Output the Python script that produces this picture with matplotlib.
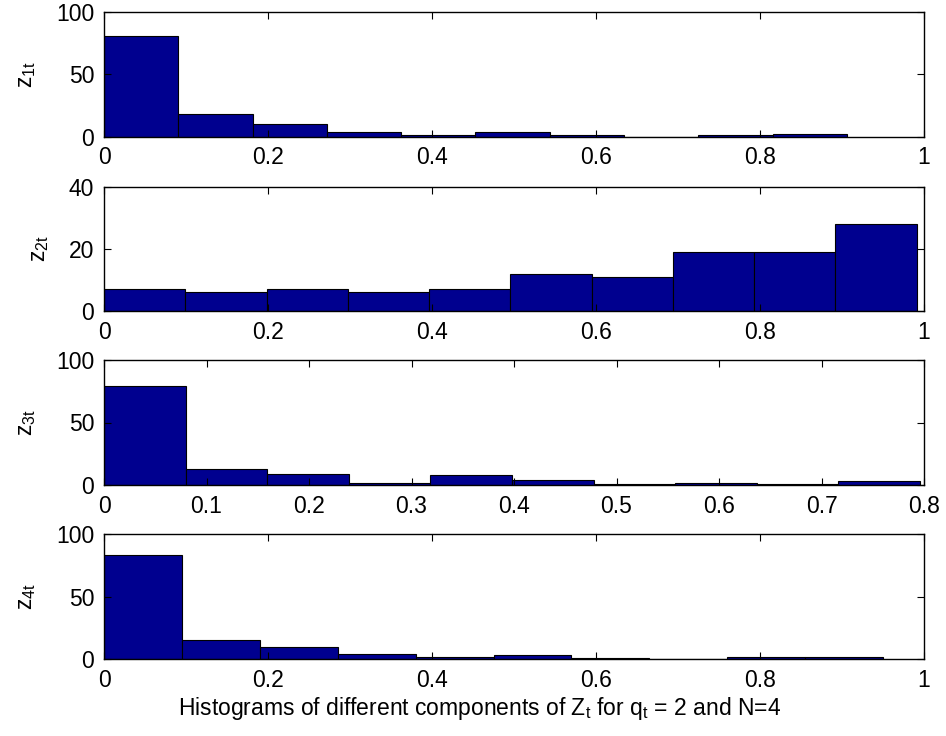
import numpy as np
import matplotlib
matplotlib.use("Agg")
import matplotlib.pyplot as plt

plt.rcParams['font.family'] = ['Liberation Sans', 'DejaVu Sans']
plt.rcParams['mathtext.fontset'] = 'custom'
plt.rcParams['mathtext.rm'] = 'Liberation Sans'
plt.rcParams['mathtext.it'] = 'Liberation Sans'

# histogram counts (10 bins each) and the data range spanned by the bins
counts_z1 = [81, 18, 10, 4, 1, 4, 1, 0, 1, 2]
range_z1 = (0.0, 0.906)
counts_z2 = [7, 6, 7, 6, 7, 12, 11, 19, 19, 28]
range_z2 = (0.0, 0.991)
counts_z3 = [79, 13, 9, 2, 8, 4, 1, 2, 1, 3]
range_z3 = (0.0, 0.796)
counts_z4 = [83, 15, 10, 4, 2, 3, 1, 0, 2, 2]
range_z4 = (0.0, 0.950)

ylabels = [r'$\mathregular{z_{1t}}$', r'$\mathregular{z_{2t}}$',
           r'$\mathregular{z_{3t}}$', r'$\mathregular{z_{4t}}$']
xlims = [(0, 1), (0, 1), (0, 0.8), (0, 1)]
ylims = [(0, 100), (0, 40), (0, 100), (0, 100)]
xticks = [np.arange(0, 1.01, 0.2), np.arange(0, 1.01, 0.2),
          np.arange(0, 0.81, 0.1), np.arange(0, 1.01, 0.2)]
yticks = [[0, 50, 100], [0, 20, 40], [0, 50, 100], [0, 50, 100]]
xticklabels = [['0', '0.2', '0.4', '0.6', '0.8', '1'],
               ['0', '0.2', '0.4', '0.6', '0.8', '1'],
               ['0', '0.1', '0.2', '0.3', '0.4', '0.5', '0.6', '0.7', '0.8'],
               ['0', '0.2', '0.4', '0.6', '0.8', '1']]
xlabel = r'Histograms of different components of Z$_\mathregular{t}$ for q$_\mathregular{t}$ = 2 and N=4'

W, H = 946, 736
fig = plt.figure(figsize=(W / 100, H / 100), dpi=100)

# axes pixel boxes (top, bottom)
boxes = [(12.3, 136.5), (187, 311), (360, 485), (534, 659)]
left_px, right_px = 104, 924

all_counts = [counts_z1, counts_z2, counts_z3, counts_z4]
all_ranges = [range_z1, range_z2, range_z3, range_z4]

fs = 16.5
for i in range(4):
    top, bot = boxes[i]
    ax = fig.add_axes([left_px / W, 1 - bot / H, (right_px - left_px) / W, (bot - top) / H])
    lo, hi = all_ranges[i]
    edges = np.linspace(lo, hi, len(all_counts[i]) + 1)
    ax.bar(edges[:-1], all_counts[i], width=np.diff(edges), align='edge',
           color='#00008F', edgecolor='black', linewidth=0.8)
    ax.set_xlim(*xlims[i])
    ax.set_ylim(*ylims[i])
    ax.set_xticks(xticks[i])
    ax.set_xticklabels(xticklabels[i])
    ax.set_yticks(yticks[i])
    ax.tick_params(direction='in', top=True, right=True, length=5, width=0.8,
                   labelsize=fs)
    ax.tick_params(axis='x', pad=7)
    ax.tick_params(axis='y', pad=7)
    for s in ax.spines.values():
        s.set_linewidth(1.0)
    ax.set_ylabel(ylabels[i], fontsize=fs, labelpad=13)
    if i == 3:
        ax.set_xlabel(xlabel, fontsize=fs, labelpad=2)
        ax.xaxis.label.set_x((480 - left_px) / (right_px - left_px))

fig.savefig('out.png', dpi=100)
